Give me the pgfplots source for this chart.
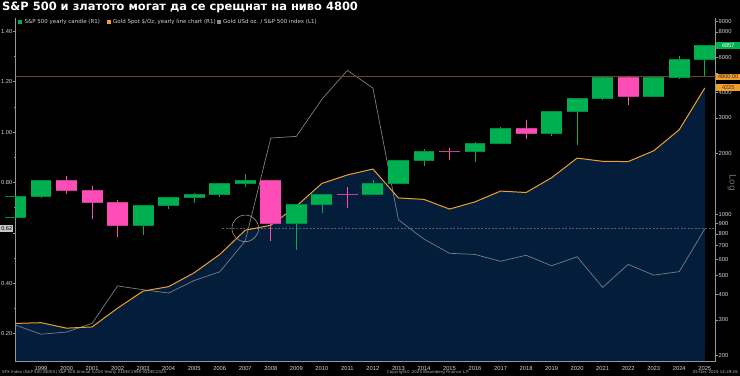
\documentclass[border=0pt]{standalone}
\usepackage{fontspec}
\setmainfont{DejaVu Sans}
\newfontfamily\tickfont{Liberation Sans}
\usepackage{pgfplots}
\usepackage{pgfplotstable}
\pgfplotsset{compat=1.18}

\definecolor{navy}{RGB}{3,29,58}
\definecolor{gup}{RGB}{0,176,80}
\definecolor{pdn}{RGB}{255,77,184}
\definecolor{goldc}{RGB}{240,160,40}
\definecolor{ratioc}{RGB}{120,126,136}
\definecolor{tickc}{RGB}{210,210,210}
\definecolor{axisc}{RGB}{150,150,150}
\definecolor{brownc}{RGB}{115,65,35}
\definecolor{dotc}{RGB}{85,95,110}

\pgfplotstableread{
year gold
1998 287.8
1999 290.25
2000 272.65
2001 276.5
2002 342.75
2003 416.25
2004 438.0
2005 513.0
2006 632.0
2007 833.75
2008 882.05
2009 1096.2
2010 1421.4
2011 1565.8
2012 1675.35
2013 1204.5
2014 1184.9
2015 1061.1
2016 1151.7
2017 1302.8
2018 1281.65
2019 1517.3
2020 1898.4
2021 1829.2
2022 1824.0
2023 2063.0
2024 2624.5
2025 4225.0
}\golddata

\pgfplotstableread{
year ratio
1998 0.234
1999 0.198
2000 0.2065
2001 0.2408
2002 0.3896
2003 0.3744
2004 0.3614
2005 0.411
2006 0.4456
2007 0.5678
2008 0.9765
2009 0.983
2010 1.130
2011 1.245
2012 1.1747
2013 0.6517
2014 0.5755
2015 0.5191
2016 0.5144
2017 0.4873
2018 0.5113
2019 0.4696
2020 0.5054
2021 0.3838
2022 0.4751
2023 0.4325
2024 0.4462
2025 0.6161
}\ratiodata

% candle: position (years after 1998), low, open, close, high, colour
\newcommand{\candle}[6]{%
  \addplot[#6, line width=0.6bp] coordinates {(#1,#2) (#1,#5)};
  \addplot[#6, line width=20.9bp, line cap=butt] coordinates {(#1,#3) (#1,#4)};
  \addplot[#6!80!black, line width=0.5bp, draw=none, mark=-, mark size=10.45bp,
    mark options={draw=#6!80!black, line width=0.7bp}] coordinates {(#1,#3) (#1,#4)};}

\pgfplotsset{
  base/.style={scale only axis, width=700bp, height=343.7bp,
    at={(15.5bp,14.3bp)}, anchor=south west, xmin=0, xmax=27.42,
    /pgf/number format/assume math mode=true,
    ticklabel style={font=\tickfont\fontsize{5.8}{6.5}\selectfont, text=tickc},
    tick align=outside, major tick length=2.5bp, minor tick length=1.5bp,
    tick style={axisc, line width=0.5bp},
    axis line style={axisc, line width=0.6bp}},
}

\begin{document}
\begin{tikzpicture}
\fill[black] (0,0) rectangle (740bp,376bp);
\useasboundingbox (0,0) rectangle (740bp,376bp);

% area under gold
\begin{axis}[base, ymode=log, ymin=186, ymax=9386, axis lines=none]
\addplot[fill=navy, draw=none] table[x expr=\thisrow{year}-1998, y=gold] {\golddata} \closedcycle;
\end{axis}

% left axis: ratio
\begin{axis}[base, ymin=0.0889, ymax=1.4528,
  axis x line*=bottom, axis y line*=left,
  xtick={1,...,27}, xticklabels={1999,2000,2001,2002,2003,2004,2005,2006,2007,2008,2009,2010,2011,2012,2013,2014,2015,2016,2017,2018,2019,2020,2021,2022,2023,2024,2025},
  xtick style={draw=none},
  xticklabel style={anchor=north, inner sep=0pt, yshift=-2bp},
  ytick={0.2,0.4,0.6,0.8,1.0,1.2,1.4},
  yticklabels={0.20,0.40,,0.80,1.00,1.20,1.40},
  minor ytick={0.3,0.5,0.7,0.9,1.1,1.3},
  yticklabel style={anchor=east, inner sep=0pt, xshift=-0.5bp}]
\addplot[ratioc, line width=0.7bp] table[x expr=\thisrow{year}-1998, y=ratio] {\ratiodata};
\addplot[dotc, dash pattern=on 2bp off 1.5bp, line width=0.6bp] coordinates {(8.1,0.62) (27.42,0.62)};
\addplot[only marks, mark=o, mark size=13.3bp, mark options={draw=axisc, line width=0.6bp}] coordinates {(9,0.618)};
\end{axis}

% right axis: gold line and S&P candles
\begin{axis}[base, ymode=log, ymin=186, ymax=9386,
  axis y line*=right, axis x line=none, xtick=\empty,
  ytick={200,300,400,500,600,700,800,900,1000,2000,3000,4000,5000,6000,7000,8000,9000},
  yticklabels={200,300,400,500,600,700,800,900,1000,2000,3000,4000,,6000,,8000,9000},
  yticklabel style={anchor=west, inner sep=0pt, xshift=0.5bp}]
\addplot[brownc, line width=0.8bp] coordinates {(0,4800) (27.42,4800)};
\addplot[goldc, line width=1bp] table[x expr=\thisrow{year}-1998, y=gold] {\golddata};
\candle{0}{923.32}{970.43}{1229.23}{1241.81}{gup}
\candle{1}{1205.46}{1229.23}{1469.25}{1473.10}{gup}
\candle{2}{1254.07}{1469.25}{1320.28}{1552.87}{pdn}
\candle{3}{944.75}{1320.28}{1148.08}{1383.37}{pdn}
\candle{4}{768.63}{1148.08}{879.82}{1176.97}{pdn}
\candle{5}{788.90}{879.82}{1111.92}{1112.56}{gup}
\candle{6}{1060.72}{1111.92}{1211.92}{1217.33}{gup}
\candle{7}{1136.15}{1211.92}{1248.29}{1275.80}{gup}
\candle{8}{1219.29}{1248.29}{1418.30}{1431.81}{gup}
\candle{9}{1363.98}{1418.30}{1468.36}{1576.09}{gup}
\candle{10}{741.02}{1468.36}{903.25}{1471.77}{pdn}
\candle{11}{666.79}{903.25}{1115.10}{1130.38}{gup}
\candle{12}{1010.91}{1115.10}{1257.64}{1262.60}{gup}
\candle{13}{1074.77}{1257.64}{1257.60}{1370.58}{pdn}
\candle{14}{1257.60}{1257.60}{1426.19}{1474.51}{gup}
\candle{15}{1426.19}{1426.19}{1848.36}{1849.44}{gup}
\candle{16}{1737.92}{1848.36}{2058.90}{2093.55}{gup}
\candle{17}{1867.01}{2058.90}{2043.94}{2134.72}{pdn}
\candle{18}{1810.10}{2043.94}{2238.83}{2277.53}{gup}
\candle{19}{2238.83}{2238.83}{2673.61}{2694.97}{gup}
\candle{20}{2346.58}{2673.61}{2506.85}{2940.91}{pdn}
\candle{21}{2443.96}{2506.85}{3230.78}{3247.93}{gup}
\candle{22}{2191.86}{3230.78}{3756.07}{3760.20}{gup}
\candle{23}{3662.71}{3756.07}{4766.18}{4818.62}{gup}
\candle{24}{3491.58}{4766.18}{3839.50}{4818.62}{pdn}
\candle{25}{3808.86}{3839.50}{4769.83}{4793.30}{gup}
\candle{26}{4682.11}{4769.83}{5881.63}{6099.97}{gup}
\candle{27}{4835.04}{5881.63}{6857.12}{6920.34}{gup}
\end{axis}

% value boxes
\begin{scope}[every node/.style={font=\tickfont\fontsize{5.6}{6.5}\selectfont, inner sep=0.8bp, anchor=west}]
\node[fill=gup, text=white, minimum width=24bp, minimum height=7bp] at (716bp,330.4bp) {6857};
\node[fill=goldc, text=black!80, minimum width=24bp, minimum height=6.5bp] at (716bp,299bp) {4800.00};
\node[fill=goldc, text=black!80, minimum width=24bp, minimum height=6.5bp] at (716bp,288.3bp) {4225};
\node[fill=black!22, text=black, minimum width=13bp, minimum height=7bp] at (0bp,147.5bp) {0.62};
\end{scope}
\node[rotate=-90, text=black!55, font=\fontsize{9}{10}\selectfont] at (732bp,193bp) {Log};

% title
\node[anchor=base west, inner sep=0pt, text=white, font=\bfseries\fontsize{11.5}{13}\selectfont] at (2bp,365.5bp) {S\&P 500 и златото могат да се срещнат на ниво 4800};

% legend
\begin{scope}[font=\fontsize{5.5}{6.5}\selectfont, text=tickc]
\fill[gup] (18.3bp,352.3bp) rectangle +(3.6bp,3.6bp);
\node[anchor=west, inner sep=0pt] at (24.5bp,354bp) {S\&P 500 yearly candle (R1)};
\fill[goldc] (107.3bp,352.3bp) rectangle +(3.6bp,3.6bp);
\node[anchor=west, inner sep=0pt] at (113bp,354bp) {Gold Spot \$/Oz, yearly line chart (R1)};
\fill[black!45] (217.3bp,352.3bp) rectangle +(3.6bp,3.6bp);
\node[anchor=west, inner sep=0pt] at (223bp,354bp) {Gold USd oz. / S\&P 500 index (L1)};
\end{scope}

% footer
\begin{scope}[font=\fontsize{4}{4.5}\selectfont, text=black!30]
\node[anchor=west, inner sep=0pt] at (2bp,3.5bp) {SPX Index (S\&P 500 INDEX) S\&P 500 Annual 5,000 Yearly 31DEC1998-05DEC2025};
\node[anchor=west, inner sep=0pt] at (387bp,3.5bp) {Copyright© 2025 Bloomberg Finance L.P.};
\node[anchor=east, inner sep=0pt] at (738bp,3.5bp) {05-Dec-2025 14:29:26};
\end{scope}
\end{tikzpicture}
\end{document}
